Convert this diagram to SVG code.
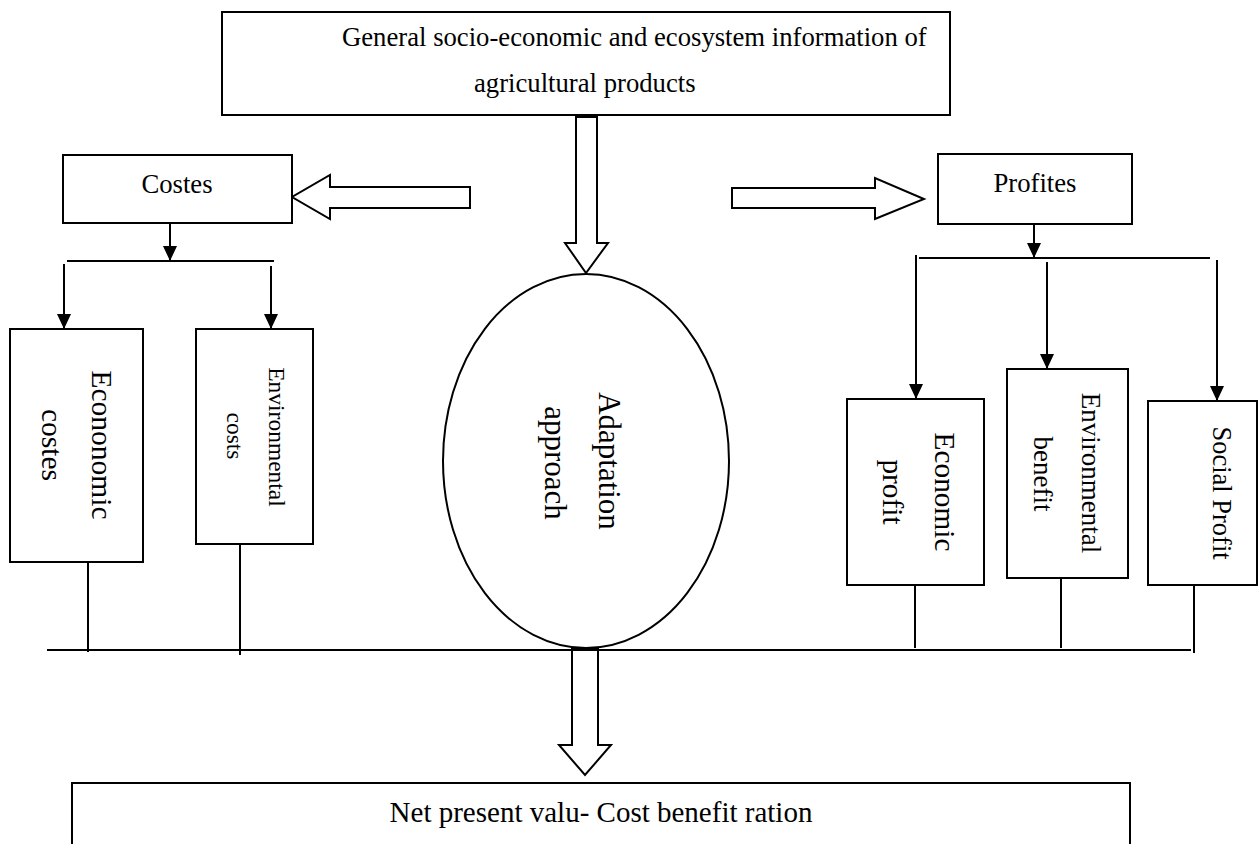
<svg xmlns="http://www.w3.org/2000/svg" width="1258" height="844" viewBox="0 0 1258 844">
<style>
  .box{fill:#fff;stroke:#000;stroke-width:2}
  .blk{fill:#fff;stroke:#000;stroke-width:2;stroke-linejoin:miter}
  .ln{fill:none;stroke:#000;stroke-width:2}
  .t{font-family:"Liberation Serif","Times New Roman",serif;fill:#000}
</style>
<defs>
  <marker id="ah" viewBox="0 0 15 14" refX="15" refY="7" markerWidth="15" markerHeight="14" markerUnits="userSpaceOnUse" orient="auto">
    <path d="M0,0 L15,7 L0,14 z" fill="#000"/>
  </marker>
</defs>
<rect width="1258" height="844" fill="#fff"/>

<g id="connectors">
  <polygon class="blk" points="576,117 597,117 597,243 608,243 586,273 565,243 576,243"/>
  <polygon class="blk" points="470,187 470,208 330,208 330,219 292,197 330,175 330,187"/>
  <polygon class="blk" points="732,188 875,188 875,178 924,199 875,219 875,208 732,208"/>
  <polygon class="blk" points="572,649 598,649 598,745 611,745 585,775 559,745 572,745"/>
  <path class="ln" d="M170,223 V261" marker-end="url(#ah)"/>
  <path class="ln" d="M67,261 H274"/>
  <path class="ln" d="M64,264 V329" marker-end="url(#ah)"/>
  <path class="ln" d="M271,266 V329" marker-end="url(#ah)"/>
  <path class="ln" d="M1034,224 V258" marker-end="url(#ah)"/>
  <path class="ln" d="M919,258 H1210"/>
  <path class="ln" d="M916,255 V399" marker-end="url(#ah)"/>
  <path class="ln" d="M1047,262 V369" marker-end="url(#ah)"/>
  <path class="ln" d="M1217,260 V401" marker-end="url(#ah)"/>
  <path class="ln" d="M88,562 V652 M240,544 V655 M915,580 V648 M1061,578 V648 M1194,583 V653"/>
  <path class="ln" d="M47,650 H1191"/>
</g>

<g id="top">
  <rect class="box" x="222" y="12" width="728" height="103"/>
  <text class="t" x="342" y="46" font-size="26.7">General socio-economic and ecosystem information of</text>
  <text class="t" x="474" y="92" font-size="26.7">agricultural products</text>
</g>

<g id="costes">
  <rect class="box" x="63" y="155" width="229" height="68"/>
  <text class="t" x="177" y="193" font-size="26.7" text-anchor="middle">Costes</text>
</g>

<g id="profites">
  <rect class="box" x="938" y="154" width="194" height="70"/>
  <text class="t" x="1035" y="192" font-size="26.7" text-anchor="middle">Profites</text>
</g>

<g id="economic-costes">
  <rect class="box" x="10" y="329" width="133" height="233"/>
  <text class="t" font-size="29.5" text-anchor="middle" transform="translate(92,445) rotate(90)">Econonomic</text>
  <text class="t" font-size="29.5" text-anchor="middle" transform="translate(42,445) rotate(90)">costes</text>
</g>

<g id="environmental-costs">
  <rect class="box" x="196" y="329" width="117" height="215"/>
  <text class="t" font-size="23.5" text-anchor="middle" transform="translate(269,437) rotate(90)">Environmental</text>
  <text class="t" font-size="23.5" text-anchor="middle" transform="translate(227,436) rotate(90)">costs</text>
</g>

<g id="adaptation">
  <ellipse cx="586" cy="461" rx="143" ry="187" fill="#fff" stroke="#000" stroke-width="2"/>
  <text class="t" font-size="31" text-anchor="middle" transform="translate(599,461) rotate(90)">Adaptation</text>
  <text class="t" font-size="31" text-anchor="middle" transform="translate(545,463) rotate(90)">approach</text>
</g>

<g id="economic-profit">
  <rect class="box" x="847" y="399" width="137" height="186"/>
  <text class="t" font-size="29.3" text-anchor="middle" transform="translate(935,492) rotate(90)">Economic</text>
  <text class="t" font-size="29.3" text-anchor="middle" transform="translate(883,492) rotate(90)">profit</text>
</g>

<g id="environmental-benefit">
  <rect class="box" x="1007" y="369" width="121" height="209"/>
  <text class="t" font-size="27" text-anchor="middle" transform="translate(1082,473) rotate(90)">Environmental</text>
  <text class="t" font-size="27" text-anchor="middle" transform="translate(1034,474) rotate(90)">benefit</text>
</g>

<g id="social-profit">
  <rect class="box" x="1148" y="401" width="109" height="184"/>
  <text class="t" font-size="26.5" text-anchor="middle" transform="translate(1213,493) rotate(90)">Social Profit</text>
</g>

<g id="npv">
  <rect class="box" x="72" y="783" width="1058" height="80"/>
  <text class="t" x="601" y="822" font-size="29" text-anchor="middle">Net present valu- Cost benefit ration</text>
</g>
</svg>
